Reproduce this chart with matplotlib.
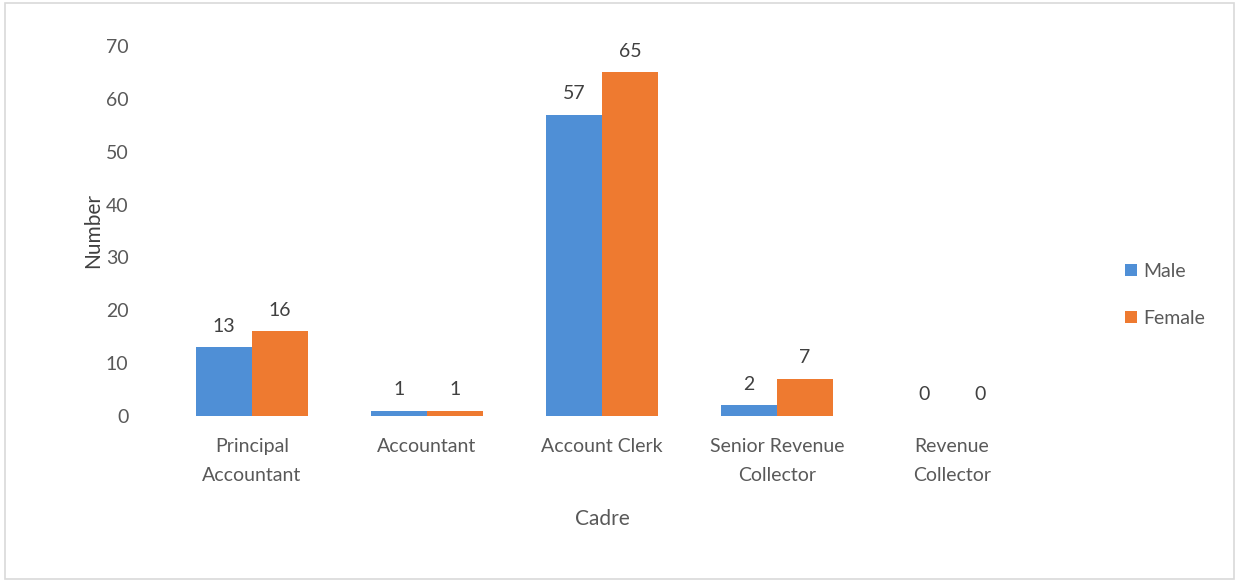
import matplotlib
matplotlib.use("Agg")
import matplotlib.pyplot as plt
import numpy as np
from matplotlib.patches import Rectangle

categories = ["Principal\nAccountant", "Accountant", "Account Clerk", "Senior Revenue\nCollector", "Revenue\nCollector"]
male = [13, 1, 57, 2, 0]
female = [16, 1, 65, 7, 0]
series_names = ["Male", "Female"]
colors = ["#4F8FD6", "#EE7A30"]

plt.rcParams['font.family'] = ['Lato', 'DejaVu Sans']
txt = "#595959"

fig = plt.figure(figsize=(12.39, 5.81), dpi=100)
fig.patches.append(Rectangle((0.004, 0.004), 0.992, 0.99, transform=fig.transFigure,
                             fill=False, edgecolor="#D9D9D9", linewidth=1.2))
ax = fig.add_axes([0.1328, 0.284, 0.7062, 0.637])
x = np.arange(len(categories))
w = 0.32
b1 = ax.bar(x - w/2, male, w, color=colors[0], label=series_names[0])
b2 = ax.bar(x + w/2, female, w, color=colors[1], label=series_names[1])
for bars, vals in ((b1, male), (b2, female)):
    for r, v in zip(bars, vals):
        ax.annotate(str(v), (r.get_x() + r.get_width()/2, v), xytext=(0, 9),
                    textcoords="offset points", ha="center", va="bottom",
                    fontsize=14, color="#404040")
ax.set_xlim(-0.5, len(categories) - 0.5)
ax.set_ylim(0, 70)
ax.set_yticks(range(0, 71, 10))
ax.set_xticks(x)
ax.set_xticklabels(categories, fontsize=14, color=txt, linespacing=1.85)
ax.tick_params(axis='y', labelsize=14, labelcolor=txt, length=0, pad=26)
ax.tick_params(axis='x', length=0, pad=16)
for s in ax.spines.values():
    s.set_visible(False)
ax.set_ylabel("Number", fontsize=15, color="#404040", labelpad=2)
ax.set_xlabel("Cadre", fontsize=15, color=txt, labelpad=18)
leg = ax.legend(loc="center left", bbox_to_anchor=(1.078, 0.328), frameon=False,
                fontsize=14, handlelength=0.6, handleheight=0.6, handletextpad=0.3,
                labelspacing=1.55)
for t in leg.get_texts():
    t.set_color(txt)
fig.savefig("out.png", dpi=100)
